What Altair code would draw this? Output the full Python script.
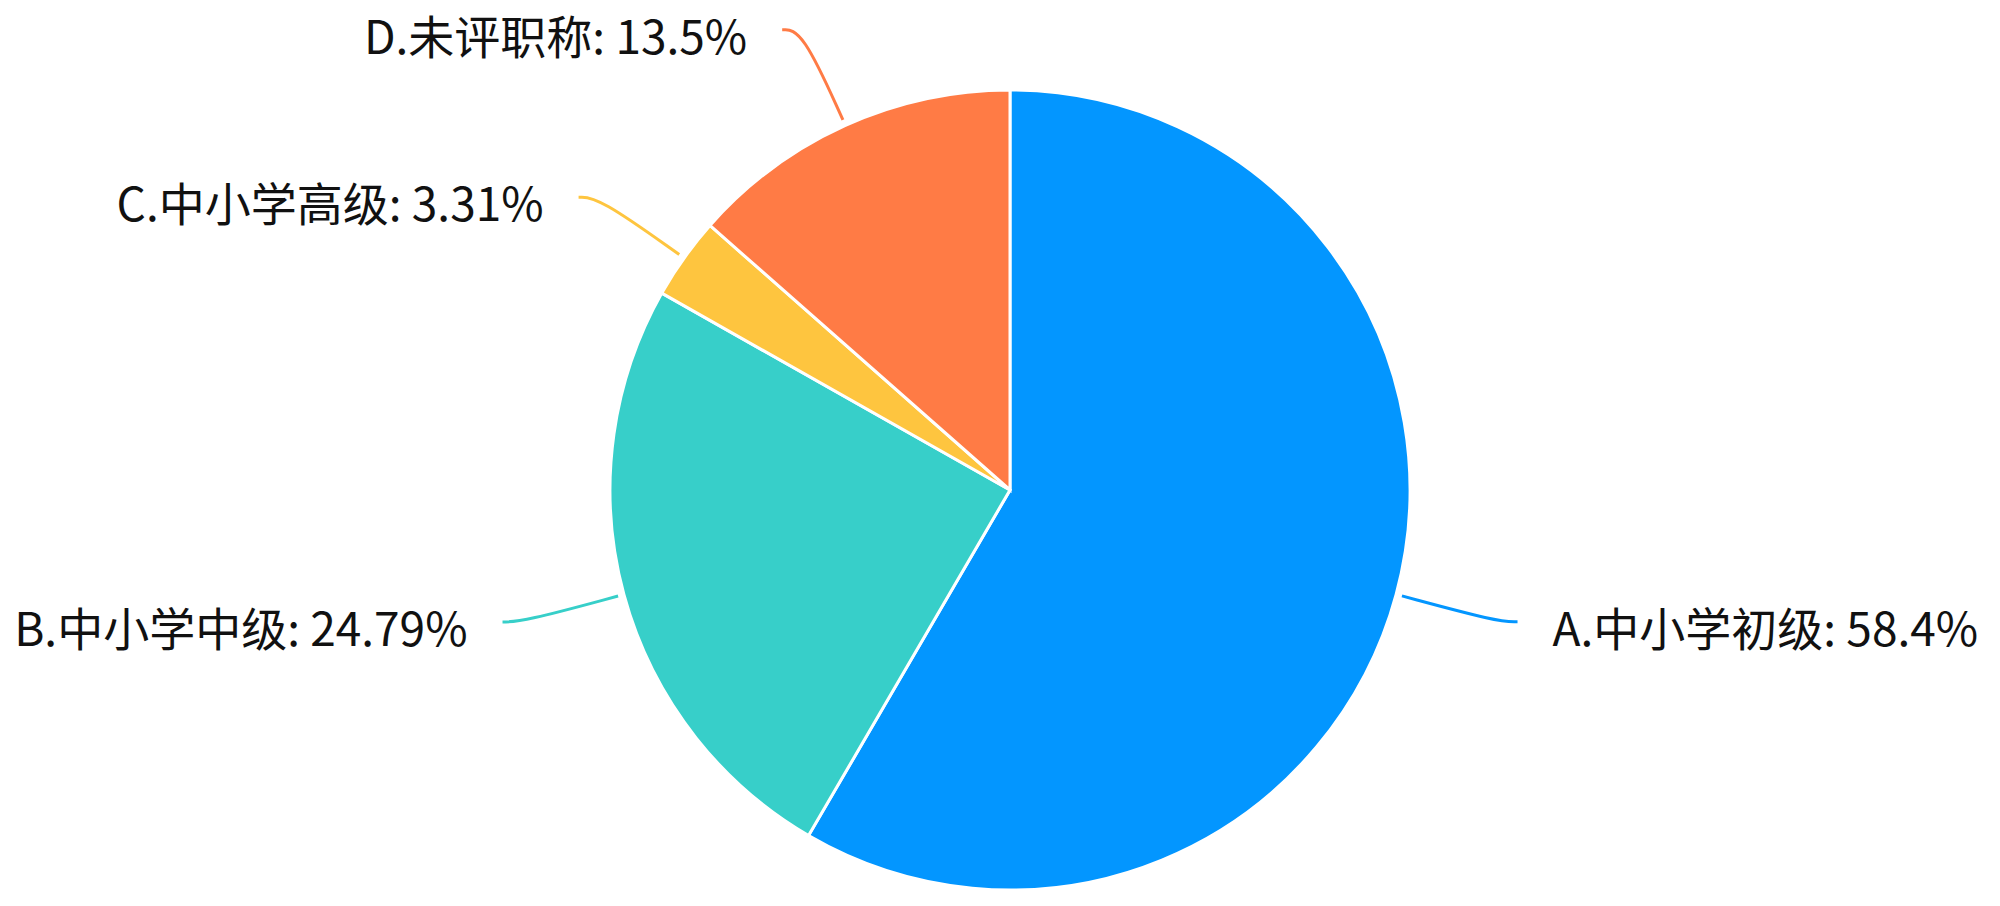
import math
import altair as alt
import pandas as pd

# ---- data ----
categories = ["A.中小学初级", "B.中小学中级", "C.中小学高级", "D.未评职称"]
values = [58.4, 24.79, 3.31, 13.5]
colors = ["#0396ff", "#37cfc9", "#fec53f", "#ff7b45"]

# ---- layout constants (pixels) ----
W, H = 1984, 890
CX, CY = 1002, 482          # pie centre inside the chart area
R = 400                      # pie radius
R_LINE0, R_LINE1 = 406, 505  # leader line start / elbow radius
H_LEN = 20                   # horizontal tail of the leader line
GAP = 35                     # distance from line end to label
FONT = "Noto Sans CJK SC"
FS = 46

total = sum(values)
pie_df = pd.DataFrame({"cat": categories, "value": values,
                       "order": list(range(len(categories)))})

line_rows, lab_rows = [], []
cum = 0.0
for c, v in zip(categories, values):
    a = (cum + v / 2) / total * 2 * math.pi
    cum += v
    sx, cy_ = math.sin(a), math.cos(a)
    side = 1 if sx >= 0 else -1
    p0 = (R_LINE0 * sx, R_LINE0 * cy_)
    p1 = (R_LINE1 * sx, R_LINE1 * cy_)
    p2 = (p1[0] + side * H_LEN, p1[1])
    for i, p in enumerate([p0, p1, p2]):
        line_rows.append({"cat": c, "step": i, "x": p[0], "y": p[1]})
    lab_rows.append({"cat": c, "x": p2[0] + side * GAP, "y": p2[1],
                     "side": "right" if side > 0 else "left",
                     "label": f"{c}: {v}%"})

line_df = pd.DataFrame(line_rows)
lab_df = pd.DataFrame(lab_rows)

xs = alt.Scale(domain=[-CX, W - CX], range=[0, W], nice=False, zero=False)
ys = alt.Scale(domain=[-(H - CY), CY], range=[H, 0], nice=False, zero=False)
cs = alt.Scale(domain=categories, range=colors)

pie = alt.Chart(pie_df).mark_arc(outerRadius=R, stroke="white", strokeWidth=3).encode(
    theta=alt.Theta("value:Q", stack=True),
    order=alt.Order("order:Q"),
    color=alt.Color("cat:N", scale=cs, legend=None),
    x=alt.datum(0, type="quantitative", scale=xs, axis=None),
    y=alt.datum(0, type="quantitative", scale=ys, axis=None),
)

lines = alt.Chart(line_df).mark_line(interpolate="basis", strokeWidth=3).encode(
    x=alt.X("x:Q", scale=xs, axis=None),
    y=alt.Y("y:Q", scale=ys, axis=None),
    detail="cat:N",
    order="step:Q",
    color=alt.Color("cat:N", scale=cs, legend=None),
)

def labels(side, align):
    return alt.Chart(lab_df).transform_filter(
        alt.datum.side == side
    ).mark_text(align=align, baseline="middle", dy=10, font=FONT,
                fontSize=FS, color="#111111").encode(
        x=alt.X("x:Q", scale=xs, axis=None),
        y=alt.Y("y:Q", scale=ys, axis=None),
        text="label:N",
    )

chart = alt.layer(pie, lines, labels("right", "left"), labels("left", "right")).properties(
    width=W, height=H, padding=0, autosize=alt.AutoSizeParams(type="none"),
).configure_view(stroke=None)

chart.save("out.html", embed_options={"renderer": "svg", "actions": False})
